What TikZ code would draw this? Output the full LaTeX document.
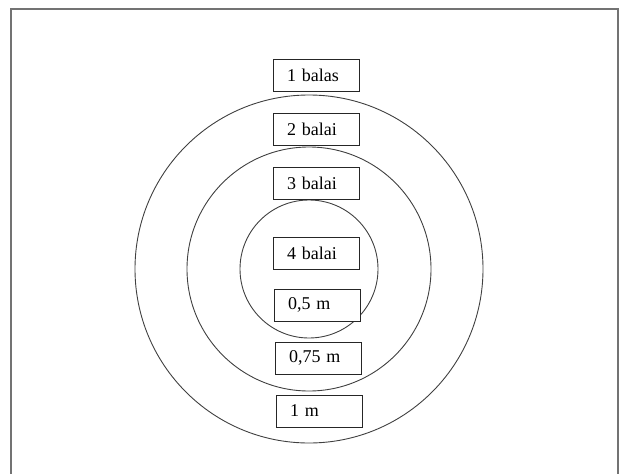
\documentclass[tikz,border=0pt]{standalone}
\usepackage{fontspec}
\setmainfont{Liberation Serif}
\begin{document}
\begin{tikzpicture}[x=1pt,y=-1pt,
  ring/.style={draw=black!75,line width=0.9pt},
  lbl/.style={draw=black!85,line width=0.9pt,minimum width=86pt,minimum height=32pt,
    inner sep=0pt,font=\fontsize{18}{20}\selectfont,text width=58pt,align=left},
  frame/.style={draw=black!55,line width=1.4pt}]
\useasboundingbox (0,0) rectangle (619,474);
\coordinate (c) at (309,269);
\draw[ring] (c) circle (174);
\draw[ring] (c) circle (122);
\draw[ring] (c) circle (69);
\coordinate (fbl) at (11,474);
\coordinate (ftl) at (11,9);
\coordinate (ftr) at (618,9);
\coordinate (fbr) at (618,474);
\draw[frame] (fbl) -- (ftl) -- (ftr) -- (fbr);
\node[lbl,fill=white] (b1) at (316,75.5) {1 balas};
\node[lbl,fill=white] (b2) at (316,129) {2 balai};
\node[lbl,fill=white] (b3) at (316,183.5) {3 balai};
\node[lbl,fill=white] (b4) at (316,253) {4 balai};
\node[lbl,fill=white] (m05) at (317,305) {0,5 m};
\node[lbl,fill=white] (m075) at (318,358) {0,75 m};
\node[lbl,fill=white] (m1) at (319,411) {1 m};
\end{tikzpicture}
\end{document}
